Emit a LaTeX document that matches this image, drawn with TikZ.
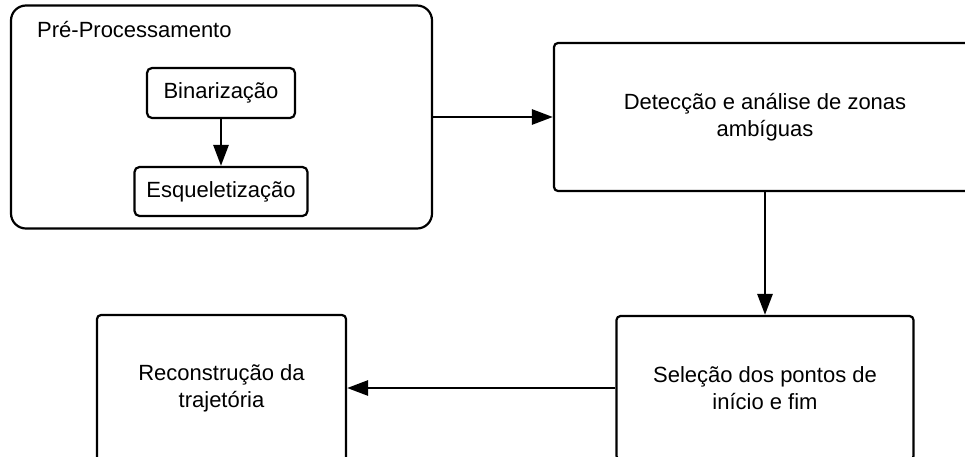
\documentclass[tikz,border=0pt]{standalone}
\usepackage{fontspec}
\setmainfont{Liberation Sans}
\usetikzlibrary{arrows.meta}
\tikzset{
  box/.style={draw, line width=2.2pt, rounded corners=4pt, inner sep=0pt, align=center,
    font=\fontsize{22}{27}\selectfont},
  flow/.style={-{Triangle[length=21pt,width=15pt]}, line width=2.8pt},
}
\begin{document}
\begin{tikzpicture}[x=1pt,y=-1pt]
    \useasboundingbox (0,0) rectangle (965,456);
    % pre-processing group
    \node[box, rounded corners=15pt, minimum width=421pt, minimum height=223pt] (pre) at (221.5,117) {};
    \node[anchor=base west, inner sep=0pt, font=\fontsize{22}{27}\selectfont] (pretitle) at (37,37) {Pré-Processamento};
    \node[box, rounded corners=5pt, minimum width=148pt, minimum height=50pt] (bin) at (221,93) {Binarização};
    \node[box, rounded corners=5pt, minimum width=173pt, minimum height=49pt] (esq) at (221,191.5) {Esqueletização};
    \draw[flow] (bin) -- (esq);
    % main steps
    \node[box, minimum width=422pt, minimum height=148pt] (det) at (765,117) {Detecção e análise de zonas\\ambíguas};
    \node[box, minimum width=297pt, minimum height=144pt] (sel) at (765,388) {Seleção dos pontos de\\início e fim};
    \node[box, minimum width=249pt, minimum height=146pt] (rec) at (221.5,388) {Reconstrução da\\trajetória};
    \draw[flow] (pre) -- (det);
    \draw[flow] (det) -- (sel);
    \draw[flow] (sel) -- (rec);
\end{tikzpicture}
\end{document}
